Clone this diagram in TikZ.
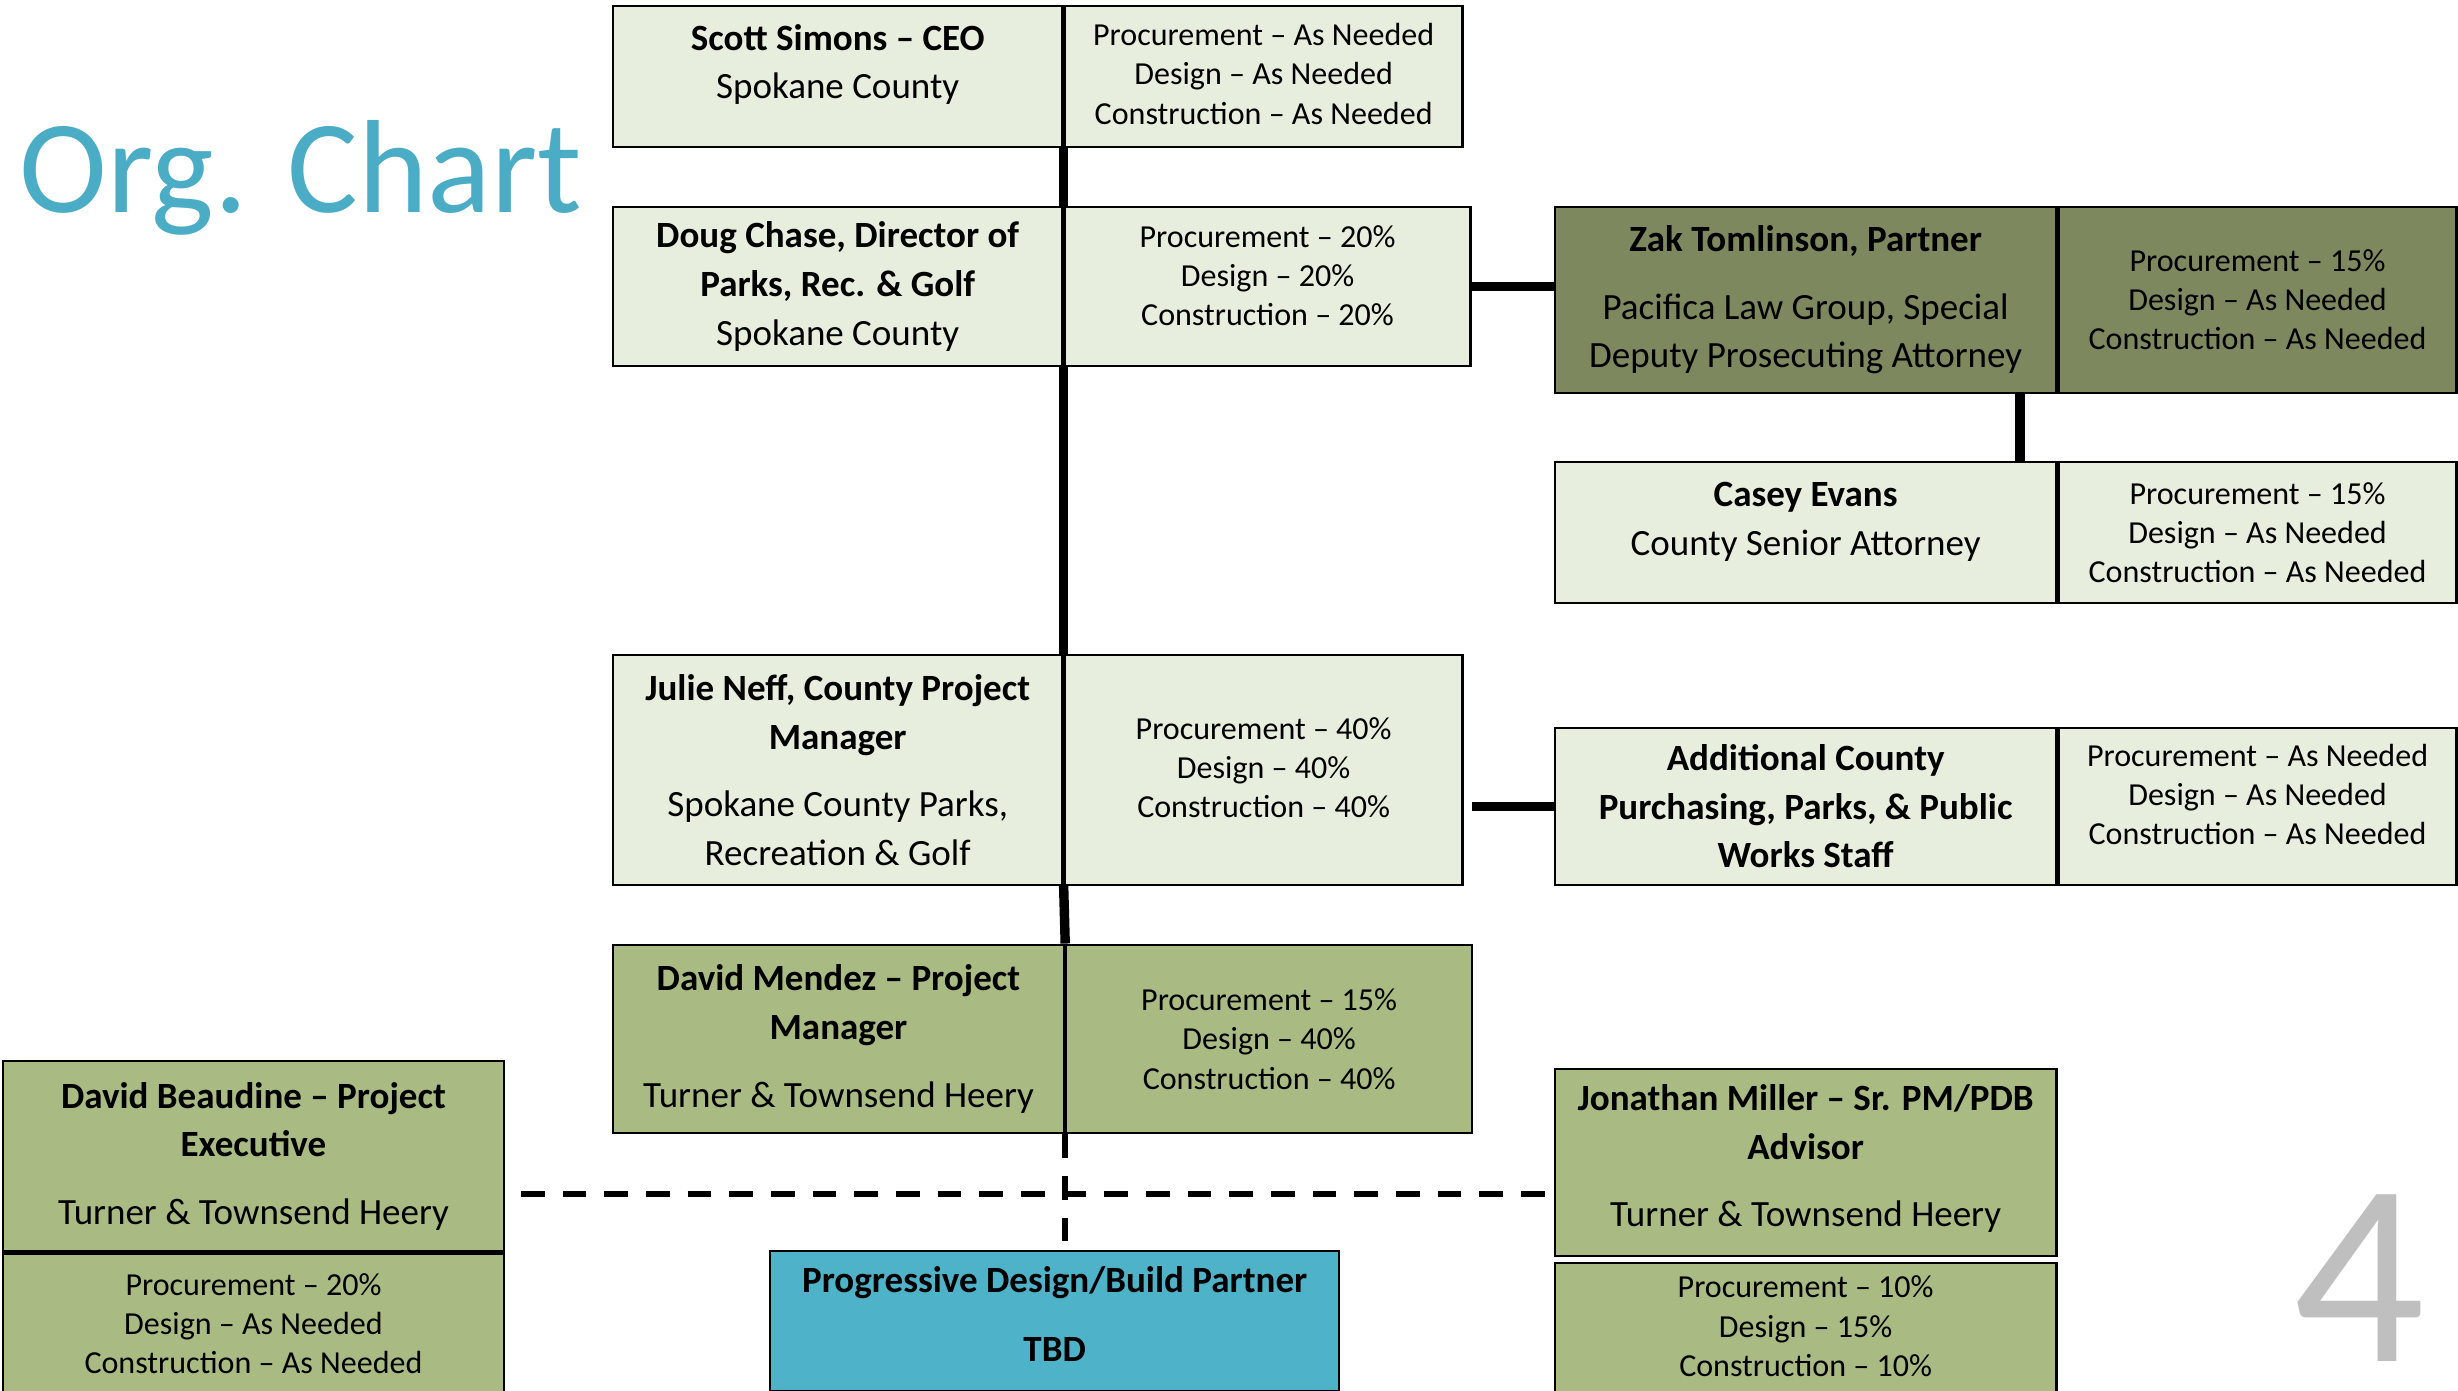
\documentclass[tikz,border=0pt]{standalone}
\usepackage{fontspec}
\setmainfont{Carlito}
\usetikzlibrary{positioning}

\definecolor{paleolive}{RGB}{232,238,222}
\definecolor{darkolive}{RGB}{126,136,94}
\definecolor{midolive}{RGB}{169,186,130}
\definecolor{pdbteal}{RGB}{78,178,200}
\definecolor{chartblue}{RGB}{75,172,198}
\definecolor{pagegray}{RGB}{191,191,191}

\begin{document}
\begin{tikzpicture}[
		x=0.02cm,y=-0.02cm,
		cell/.style={draw=black,line width=0.8pt,align=center,inner sep=2pt},
		who/.style={cell,font=\fontsize{13.4}{17.6}\selectfont},
		share/.style={cell,font=\fontsize{11.6}{14.2}\selectfont},
		county/.style={fill=paleolive},
		counsel/.style={fill=darkolive},
		consult/.style={fill=midolive},
		builder/.style={fill=pdbteal},
		link/.style={line width=0.12cm},
		tbd/.style={line width=2.1pt,dash pattern=on 0.3cm off 0.23cm}
		]
		
		\useasboundingbox (0,0) rectangle (1563,884);
		
		% --- Title and page number
		\node[anchor=base west,inner sep=0pt,text=chartblue,font=\fontsize{48}{58}\selectfont] (title) at (12,135) {Org. Chart};
		\node[anchor=base,inner sep=0pt,text=pagegray,font=\fontsize{94}{100}\selectfont] (pagenum) at (1500,866) {4};
		
		% --- Spokane County chain
		\node[who,county,anchor=north west,minimum width=5.72cm,minimum height=1.8cm,text depth=11pt] (scottL) at (389,3)
		{\textbf{Scott Simons – CEO}\\Spokane County};
		\node[share,county,right=0pt of scottL,minimum width=5.06cm,minimum height=1.8cm,text depth=2pt] (scottR)
		{Procurement – As Needed\\Design – As Needed\\Construction – As Needed};
		
		\node[who,county,anchor=north west,minimum width=5.72cm,minimum height=2.02cm] (dougL) at (389,131)
		{\textbf{Doug Chase, Director of}\\\textbf{Parks, Rec. \& Golf}\\Spokane County};
		\node[share,county,right=0pt of dougL,minimum width=5.16cm,minimum height=2.02cm,text depth=8pt] (dougR)
		{Procurement – 20\%\\Design – 20\%\\Construction – 20\%};
		
		\node[who,county,anchor=north west,minimum width=5.72cm,minimum height=2.92cm] (julieL) at (389,416)
		{\textbf{Julie Neff, County Project}\\\textbf{Manager}\\[6.8pt]Spokane County Parks,\\Recreation \& Golf};
		\node[share,county,right=0pt of julieL,minimum width=5.06cm,minimum height=2.92cm,text depth=2pt] (julieR)
		{Procurement – 40\%\\Design – 40\%\\Construction – 40\%};
		
		% --- Legal
		\node[who,counsel,anchor=north west,minimum width=6.38cm,minimum height=2.36cm] (zakL) at (988,131)
		{\textbf{Zak Tomlinson, Partner}\\[6.8pt]Pacifica Law Group, Special\\Deputy Prosecuting Attorney};
		\node[share,counsel,right=0pt of zakL,minimum width=5.06cm,minimum height=2.36cm] (zakR)
		{Procurement – 15\%\\Design – As Needed\\Construction – As Needed};
		
		\node[who,county,anchor=north west,minimum width=6.38cm,minimum height=1.8cm,text depth=10pt] (caseyL) at (988,293)
		{\textbf{Casey Evans}\\County Senior Attorney};
		\node[share,county,right=0pt of caseyL,minimum width=5.06cm,minimum height=1.8cm] (caseyR)
		{Procurement – 15\%\\Design – As Needed\\Construction – As Needed};
		
		\node[who,county,anchor=north west,minimum width=6.38cm,minimum height=2.0cm] (addL) at (988,462)
		{\textbf{Additional County}\\\textbf{Purchasing, Parks, \& Public}\\\textbf{Works Staff}};
		\node[share,county,right=0pt of addL,minimum width=5.06cm,minimum height=2.0cm,text depth=8.5pt] (addR)
		{Procurement – As Needed\\Design – As Needed\\Construction – As Needed};
		
		% --- Turner & Townsend Heery
		\node[who,consult,anchor=north west,minimum width=5.74cm,minimum height=2.4cm] (mendL) at (389,600)
		{\textbf{David Mendez – Project}\\\textbf{Manager}\\[6.8pt]Turner \& Townsend Heery};
		\node[share,consult,right=0pt of mendL,minimum width=5.16cm,minimum height=2.4cm] (mendR)
		{Procurement – 15\%\\Design – 40\%\\Construction – 40\%};
		
		\node[who,consult,anchor=north west,minimum width=6.38cm,minimum height=2.42cm] (beauT) at (1,674)
		{\textbf{David Beaudine – Project}\\\textbf{Executive}\\[6.8pt]Turner \& Townsend Heery};
		\node[share,consult,below=0pt of beauT,minimum width=6.38cm,minimum height=1.78cm] (beauB)
		{Procurement – 20\%\\Design – As Needed\\Construction – As Needed};
		
		\node[who,consult,anchor=north west,minimum width=6.38cm,minimum height=2.38cm,text depth=5pt] (jonT) at (988,679)
		{\textbf{Jonathan Miller – Sr. PM/PDB}\\\textbf{Advisor}\\[6.8pt]Turner \& Townsend Heery};
		\node[share,consult,below=0.06cm of jonT,minimum width=6.38cm,minimum height=1.68cm,text depth=2pt] (jonB)
		{Procurement – 10\%\\Design – 15\%\\Construction – 10\%};
		
		% --- Design/build partner
		\node[who,builder,anchor=north west,minimum width=7.24cm,minimum height=1.78cm,text depth=5pt] (pdb) at (489,795)
		{\textbf{Progressive Design/Build Partner}\\[7.4pt]\textbf{TBD}};
		
		% --- Solid reporting lines
		\draw[link] (scottL.south east) -- (dougL.north east);
		\draw[link] (dougL.south east) -- (julieL.north east);
		\draw[link] (julieL.south east) -- (mendL.north east);
		\draw[link] (dougR.east) -- (dougR.east -| zakL.west);
		\draw[link] ([xshift=-0.48cm]zakL.south east) -- ([xshift=-0.48cm]caseyL.north east);
		\draw[link,shorten >=0.1cm] (addL.west) -- (addL.west -| julieR.east);
		
		% --- Dashed lines
		\coordinate (tie) at (676,759);
		\draw[tbd] (mendL.south east) -- (mendL.south east |- pdb.north);
		\draw[tbd,shorten <=0.2cm] (tie -| beauT.east) -- (tie -| jonT.west);
		
	\end{tikzpicture}
\end{document}
